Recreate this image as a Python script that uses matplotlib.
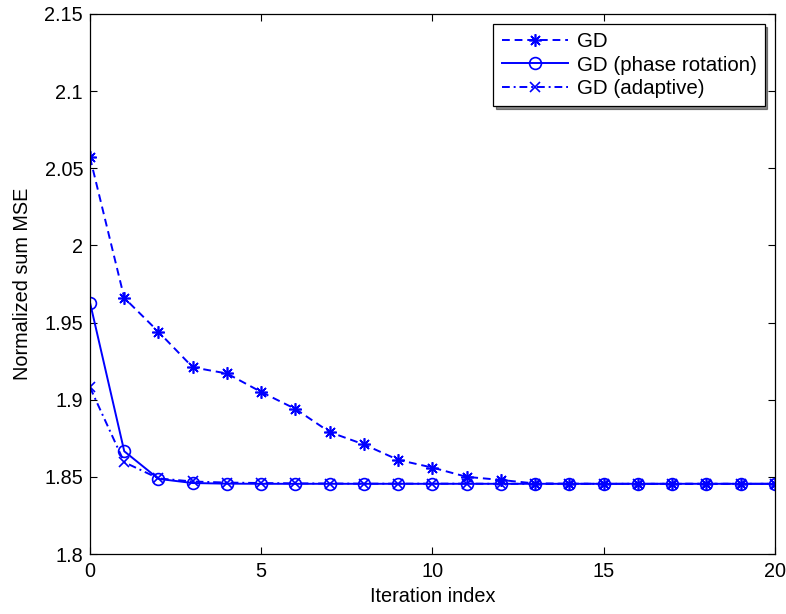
import matplotlib
matplotlib.use("Agg")

import matplotlib.pyplot as plt
from matplotlib.ticker import FormatStrFormatter, MultipleLocator

plt.rcParams["font.family"] = ["Liberation Sans", "DejaVu Sans"]

iters = list(range(21))
gd = [2.057, 1.966, 1.944, 1.921, 1.917, 1.905, 1.894, 1.879, 1.871, 1.861,
      1.856, 1.850, 1.848, 1.8457, 1.8456, 1.8455, 1.8455, 1.8455, 1.8455,
      1.8455, 1.8455]
gd_phase = [1.963, 1.8666, 1.8487, 1.846, 1.8456, 1.8455, 1.8455, 1.8455,
            1.8455, 1.8455, 1.8455, 1.8455, 1.8455, 1.8455, 1.8455, 1.8455,
            1.8455, 1.8455, 1.8455, 1.8455, 1.8455]
gd_adapt = [1.908, 1.8595, 1.849, 1.847, 1.8463, 1.846, 1.8458, 1.8457,
            1.8456, 1.8456, 1.8456, 1.8456, 1.8455, 1.8455, 1.8455, 1.8455,
            1.8455, 1.8455, 1.8455, 1.8455, 1.8455]

blue = "#0000ff"
fs = 14.3

fig = plt.figure(figsize=(7.86, 6.14), dpi=100)
ax = fig.add_axes([0.1145, 0.0977, 0.8715, 0.8795])

ax.plot(iters, gd, color=blue, linestyle="--", dashes=(4, 2.5), lw=1.4,
        marker=(8, 2, 0), markersize=9, markeredgewidth=1.2, label="GD")
ax.plot(iters, gd_phase, color=blue, linestyle="-", lw=1.4,
        marker="o", markersize=8.5, markerfacecolor="none", markeredgewidth=1.2,
        label="GD (phase rotation)")
ax.plot(iters, gd_adapt, color=blue, linestyle="-.", dashes=(4, 2, 1, 2), lw=1.4,
        marker="x", markersize=6.5, markeredgewidth=1.2, label="GD (adaptive)")

ax.set_xlim(0, 20)
ax.set_ylim(1.8, 2.15)
ax.xaxis.set_major_locator(MultipleLocator(5))
ax.yaxis.set_major_locator(MultipleLocator(0.05))
ax.yaxis.set_major_formatter(FormatStrFormatter("%g"))
ax.tick_params(direction="in", top=True, right=True, length=5, width=0.8,
               labelsize=fs)
ax.tick_params(axis="x", pad=6)
ax.tick_params(axis="y", pad=5)
for s in ax.spines.values():
    s.set_linewidth(0.9)

ax.set_xlabel("Iteration index", fontsize=fs, labelpad=4)
ax.set_ylabel("Normalized sum MSE", fontsize=fs, labelpad=9)

leg = ax.legend(loc="upper right", fontsize=14.8, fancybox=False, framealpha=1,
                edgecolor="black", borderpad=0.4, labelspacing=0.2,
                handlelength=3.25, handletextpad=0.4, borderaxespad=0.5,
                shadow={"color": "black", "alpha": 0.45})
leg.get_frame().set_linewidth(0.9)

plt.savefig("out.png", dpi=100)
plt.close()
